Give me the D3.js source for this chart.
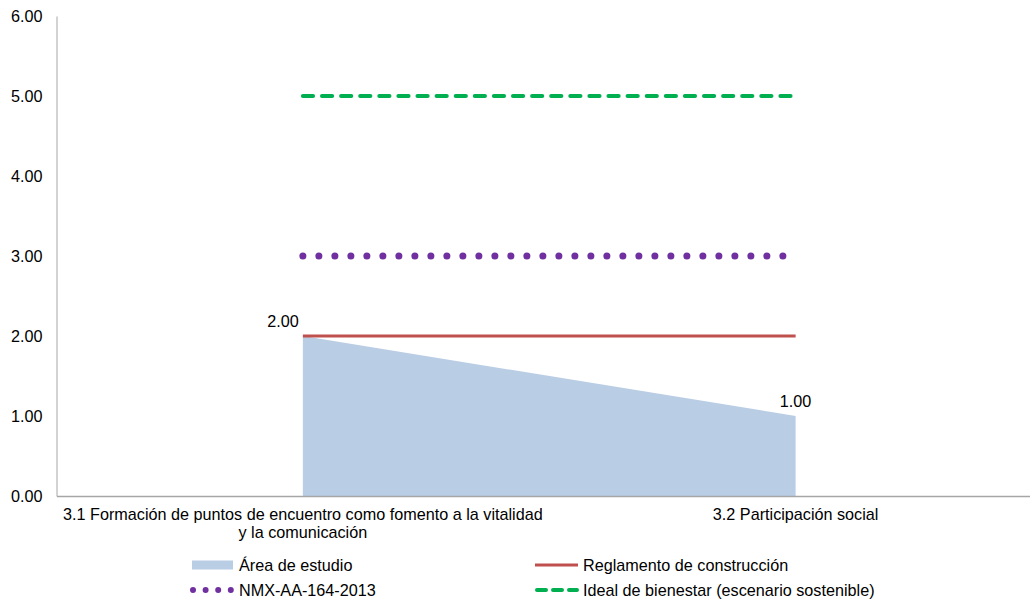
<!DOCTYPE html>
<html>
<head>
<meta charset="utf-8">
<script src="https://cdn.jsdelivr.net/npm/d3@7"></script>
<style>
  html, body { margin: 0; padding: 0; background: #fff; }
  svg { display: block; font-family: "Liberation Sans", Arial, sans-serif; }
</style>
</head>
<body>
<svg id="chart" width="1030" height="601"></svg>
<script>
// Indicator categories (each label split into lines)
const categories = [
  ["3.1 Formación de puntos de encuentro como fomento a la vitalidad", "y la comunicación"],
  ["3.2 Participación social"]
];
const categoryKeys = ["3.1", "3.2"];

// Series values per category
const areaEstudio = [2.00, 1.00];
const reglamento = [2.00, 2.00];
const nmx = [3.00, 3.00];
const idealBienestar = [5.00, 5.00];

// Y axis ticks
const yTicks = [0, 1, 2, 3, 4, 5, 6];

const FS = 16.2;
const svg = d3.select("#chart");
const margin = { left: 56.5, top: 16, bottom: 496, right: 1042 };

const x = d3.scaleBand().domain(categoryKeys).range([margin.left, margin.right]);
const cx = k => x(k) + x.bandwidth() / 2;
const y = d3.scaleLinear().domain([0, 6]).range([margin.bottom, margin.top]);

// Area series
const area = d3.area()
  .x((d, i) => cx(categoryKeys[i]))
  .y0(y(0))
  .y1(d => y(d));
svg.append("path")
  .datum(areaEstudio)
  .attr("d", area)
  .attr("fill", "#b9cde5");

const line = d3.line().x((d, i) => cx(categoryKeys[i])).y(d => y(d));

// Reglamento de construcción
svg.append("path").datum(reglamento).attr("d", line)
  .attr("fill", "none").attr("stroke", "#c0504d").attr("stroke-width", 3);

// NMX-AA-164-2013 (round dots)
svg.append("path").datum(nmx).attr("d", line)
  .attr("fill", "none").attr("stroke", "#7030a0").attr("stroke-width", 7)
  .attr("stroke-linecap", "round").attr("stroke-dasharray", "0 16");

// Ideal de bienestar (dashes)
svg.append("path").datum(idealBienestar).attr("d", line)
  .attr("fill", "none").attr("stroke", "#00b050").attr("stroke-width", 4)
  .attr("stroke-linecap", "round").attr("stroke-dasharray", "10.2 8.9");

// Axes
const yAxis = d3.axisLeft(y).tickValues(yTicks).tickSize(0).tickPadding(14)
  .tickFormat(d3.format(".2f"));
const gy = svg.append("g").attr("transform", `translate(${margin.left},0)`).call(yAxis);
gy.select(".domain").attr("stroke", "#a6a6a6").attr("stroke-width", 1);
gy.selectAll("text").attr("font-size", FS).attr("fill", "#000")
  .attr("font-family", "Liberation Sans, Arial, sans-serif");

const xAxis = d3.axisBottom(x).tickSize(0).tickFormat("");
const gx = svg.append("g").attr("transform", `translate(0,${margin.bottom})`).call(xAxis);
gx.select(".domain").attr("stroke", "#a6a6a6").attr("stroke-width", 1.5);

// Category labels
categoryKeys.forEach((k, i) => {
  const t = svg.append("text")
    .attr("x", cx(k)).attr("y", margin.bottom + 24)
    .attr("text-anchor", "middle").attr("font-size", FS).attr("fill", "#000");
  categories[i].forEach((ln, j) => {
    t.append("tspan").attr("x", cx(k)).attr("dy", j === 0 ? 0 : 18).text(ln);
  });
});

// Data labels for the area series
svg.selectAll(".dlabel").data(areaEstudio).enter().append("text")
  .attr("class", "dlabel")
  .attr("x", (d, i) => cx(categoryKeys[i]) + (i === 0 ? -4 : 0))
  .attr("y", d => y(d) - 9)
  .attr("text-anchor", (d, i) => i === 0 ? "end" : "middle")
  .attr("font-size", FS).attr("fill", "#000")
  .text(d => d3.format(".2f")(d));

// Legend
const legend = [
  { name: "Área de estudio", type: "rect", color: "#b9cde5", col: 0, row: 0 },
  { name: "Reglamento de construcción", type: "solid", color: "#c0504d", col: 1, row: 0 },
  { name: "NMX-AA-164-2013", type: "dots", color: "#7030a0", col: 0, row: 1 },
  { name: "Ideal de bienestar (escenario sostenible)", type: "dash", color: "#00b050", col: 1, row: 1 }
];
const colX = [192, 535];
const rowY = [565, 590];
legend.forEach(l => {
  const g = svg.append("g").attr("transform", `translate(${colX[l.col]},${rowY[l.row]})`);
  if (l.type === "rect") {
    g.append("rect").attr("x", 0).attr("y", -4.5).attr("width", 41).attr("height", 9).attr("fill", l.color);
  } else if (l.type === "solid") {
    g.append("line").attr("x1", 0).attr("x2", 43).attr("stroke", l.color).attr("stroke-width", 3);
  } else if (l.type === "dots") {
    g.append("line").attr("x1", 1).attr("x2", 40).attr("stroke", l.color).attr("stroke-width", 6)
      .attr("stroke-linecap", "round").attr("stroke-dasharray", "0 12.6");
  } else {
    g.append("line").attr("x1", 2).attr("x2", 42).attr("stroke", l.color).attr("stroke-width", 4)
      .attr("stroke-linecap", "round").attr("stroke-dasharray", "9 7");
  }
  g.append("text").attr("x", l.col === 0 ? 47 : 48).attr("y", 0).attr("dy", "0.35em")
    .attr("font-size", FS).attr("fill", "#000").text(l.name);
});
</script>
</body>
</html>
